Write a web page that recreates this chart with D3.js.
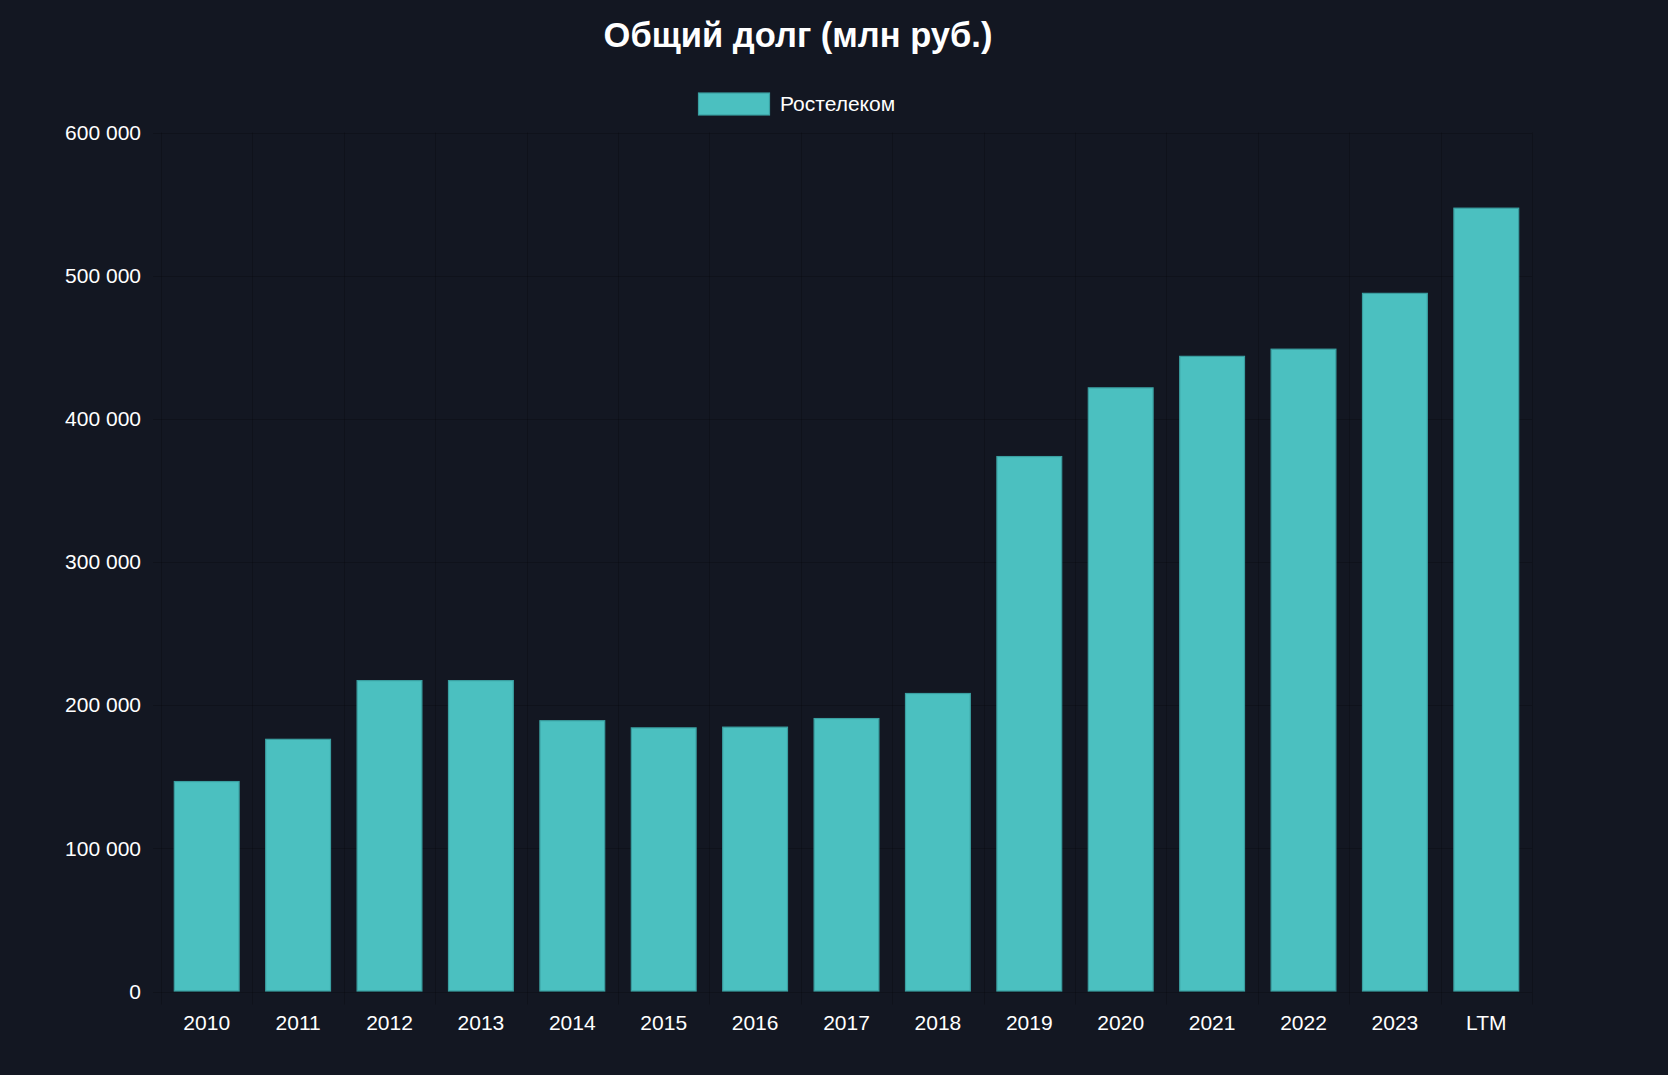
<!DOCTYPE html>
<html>
<head>
<meta charset="utf-8">
<script src="https://cdn.jsdelivr.net/npm/d3@7/dist/d3.min.js"></script>
<style>
  html, body { margin: 0; padding: 0; background: #131722; }
  svg { display: block; }
</style>
</head>
<body>
<svg id="chart" width="1668" height="1075"></svg>
<script>
const title = "Общий долг (млн руб.)";
const seriesName = "Ростелеком";
const categories = ["2010","2011","2012","2013","2014","2015","2016","2017","2018","2019","2020","2021","2022","2023","LTM"];
const values = [147000, 176500, 217500, 217500, 189500, 184500, 185000, 191000, 208500, 374000, 422000, 444000, 449000, 488000, 547500];
const yTicks = [0, 100000, 200000, 300000, 400000, 500000, 600000];

const W = 1668, H = 1075;
const m = { left: 161, right: 1532, top: 132.5, bottom: 991.5 };
const fontFamily = "'Liberation Sans', Arial, Helvetica, sans-serif";
const barFill = "#4bc0c0";
const barStroke = "#3a9fa1";
const gridColor = "rgba(0,0,0,0.18)";

const svg = d3.select("#chart");
svg.append("rect").attr("width", W).attr("height", H).attr("fill", "#131722");

const x = d3.scaleBand().domain(categories).range([m.left, m.right]).paddingInner(0).paddingOuter(0);
const y = d3.scaleLinear().domain([0, 600000]).range([m.bottom, m.top]);

const fmt = v => d3.format(",")(v).replace(/,/g, " ");

// grid lines
const grid = svg.append("g");
grid.selectAll("line.h").data(yTicks).join("line")
  .attr("x1", m.left - 8).attr("x2", m.right)
  .attr("y1", d => Math.round(y(d)) + 0.5).attr("y2", d => Math.round(y(d)) + 0.5)
  .attr("stroke", gridColor).attr("stroke-width", 1);
const vEdges = categories.map(c => x(c)).concat([x(categories[categories.length-1]) + x.bandwidth()]);
grid.selectAll("line.v").data(vEdges).join("line")
  .attr("x1", d => Math.round(d) + 0.5).attr("x2", d => Math.round(d) + 0.5)
  .attr("y1", m.top).attr("y2", m.bottom + 13)
  .attr("stroke", gridColor).attr("stroke-width", 1);

// bars
const barW = x.bandwidth() * 0.72;
svg.append("g").selectAll("rect").data(values).join("rect")
  .attr("x", (d, i) => x(categories[i]) + (x.bandwidth() - barW) / 2 + 0.5)
  .attr("y", d => y(d) + 0.5)
  .attr("width", barW - 1)
  .attr("height", d => y(0) - y(d) - 1)
  .attr("fill", barFill)
  .attr("stroke", barStroke)
  .attr("stroke-width", 1.2);

// y axis labels
const yAxis = d3.axisLeft(y).tickValues(yTicks).tickFormat(fmt).tickSize(0).tickPadding(0);
const gy = svg.append("g").attr("transform", `translate(141,0)`).call(yAxis);
gy.select(".domain").remove();
gy.selectAll("text").attr("fill", "#ffffff").attr("font-size", 21).attr("font-family", fontFamily);

// x axis labels
const xAxis = d3.axisBottom(x).tickSize(0).tickPadding(0);
const gx = svg.append("g").attr("transform", `translate(0,1015)`).call(xAxis);
gx.select(".domain").remove();
gx.selectAll("text").attr("fill", "#ffffff").attr("font-size", 21).attr("font-family", fontFamily).attr("dy", "0.71em");

// title
svg.append("text").attr("x", 798).attr("y", 47).attr("text-anchor", "middle")
  .attr("fill", "#ffffff").attr("font-size", 34.5).attr("font-weight", "bold")
  .attr("font-family", fontFamily).text(title);

// legend
svg.append("rect").attr("x", 698.5).attr("y", 93).attr("width", 71).attr("height", 22)
  .attr("fill", barFill).attr("stroke", barStroke).attr("stroke-width", 1.2);
svg.append("text").attr("x", 780).attr("y", 104).attr("dy", "0.35em")
  .attr("fill", "#ffffff").attr("font-size", 21).attr("font-family", fontFamily).text(seriesName);
</script>
</body>
</html>
